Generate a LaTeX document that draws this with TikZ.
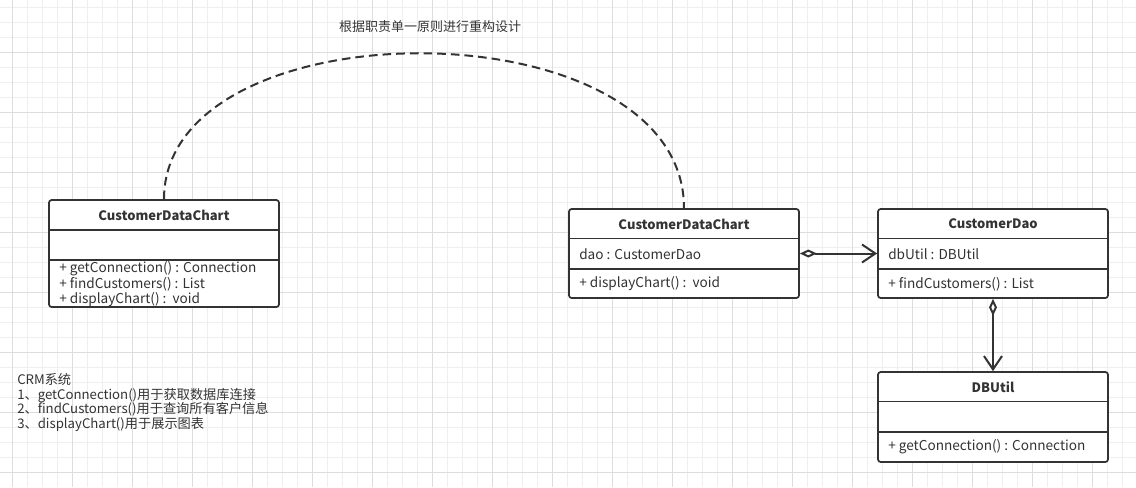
\documentclass[tikz,border=0pt]{standalone}
\usepackage{fontspec}
\setmainfont{Noto Sans CJK SC}
\usetikzlibrary{arrows.meta,positioning}

\definecolor{umlline}{HTML}{333333}
\definecolor{umltext}{HTML}{333333}
\definecolor{gridminor}{HTML}{EFEFEF}
\definecolor{gridmajor}{HTML}{DDDDDD}

\begin{document}
\begin{tikzpicture}[x=0.75pt,y=-0.75pt,
  classbox/.style={draw=umlline, line width=1.3pt, rounded corners=2pt, fill=white,
                   minimum width=172.5pt, inner sep=0pt},
  classname/.style={font=\bfseries\fontsize{9.75}{12}\selectfont, text=umltext, inner sep=0pt},
  member/.style={anchor=west, font=\fontsize{10.2}{12}\selectfont, text=umltext, inner sep=0pt},
  sepline/.style={draw=umlline, line width=1.3pt},
  aggregation/.style={draw=umlline, line width=1.5pt,
                      {Diamond[fill=white,length=12.75pt,width=6pt]}-{Straight Barb[length=10pt,width=13.5pt]}},
  refactor/.style={draw=umlline, line width=1.5pt, dash pattern=on 6.5pt off 3.75pt}]

\useasboundingbox (0,0) rectangle (1136,487);

% grid
\foreach \x in {12.5,27.5,...,1136} \draw[gridminor, line width=0.75pt] (\x,0) -- (\x,487);
\foreach \y in {7.5,22.5,...,487} \draw[gridminor, line width=0.75pt] (0,\y) -- (1136,\y);
\foreach \x in {12.5,72.5,...,1136} \draw[gridmajor, line width=0.75pt] (\x,0) -- (\x,487);
\foreach \y in {52.5,112.5,...,487} \draw[gridmajor, line width=0.75pt] (0,\y) -- (1136,\y);

% old class
\node[classbox, minimum height=80.25pt] (chartOld) at (164,253.5) {};
\draw[sepline] (49,230) -- (279,230);
\draw[sepline] (49,260) -- (279,260);
\node[classname] (chartOldName) at (164,215) {CustomerDataChart};
\node[member] (chartOldM1) at (59,269) {+ getConnection() : Connection};
\node[member] (chartOldM2) at (59,284.5) {+ findCustomers() : List};
\node[member] (chartOldM3) at (59,300) {+ displayChart() :\ \ void};

% new classes
\node[classbox, minimum height=66.75pt] (chartNew) at (684,253.5) {};
\draw[sepline] (569,238.5) -- (799,238.5);
\draw[sepline] (569,269) -- (799,269);
\node[classname] (chartNewName) at (684,224) {CustomerDataChart};
\node[member] (chartNewA1) at (579,254.5) {dao : CustomerDao};
\node[member] (chartNewM1) at (579,284) {+ displayChart() :\ \ void};

\node[classbox, minimum height=66.75pt] (dao) at (993,253.5) {};
\draw[sepline] (878,238.5) -- (1108,238.5);
\draw[sepline] (878,269) -- (1108,269);
\node[classname] (daoName) at (993,224) {CustomerDao};
\node[member] (daoA1) at (888,254.5) {dbUtil : DBUtil};
\node[member] (daoM1) at (888,284) {+ findCustomers() : List};

\node[classbox, minimum height=67.5pt] (dbutil) at (993,417) {};
\draw[sepline] (878,401.5) -- (1108,401.5);
\draw[sepline] (878,432) -- (1108,432);
\node[classname] (dbutilName) at (993,387) {DBUtil};
\node[member] (dbutilM1) at (888,447) {+ getConnection() : Connection};

% relations
\draw[aggregation] (chartNew.east) -- (dao.west);
\draw[aggregation] (dao.south) -- (dbutil.north);
\draw[refactor] (chartOld.north) .. controls +(0,-196) and +(0,-205) .. (chartNew.north);

% texts
\node[text=umltext, font=\fontsize{9.75}{12}\selectfont, inner sep=0pt] (title) at (430,27) {根据职责单一原则进行重构设计};
\node[anchor=west, align=left, text=umltext, inner sep=0pt,
      font=\fontsize{9.9}{10.9}\selectfont] (crmNote) at (17,402.5)
  {CRM系统\\1、getConnection()用于获取数据库连接\\2、findCustomers()用于查询所有客户信息\\3、displayChart()用于展示图表};

\end{tikzpicture}
\end{document}
